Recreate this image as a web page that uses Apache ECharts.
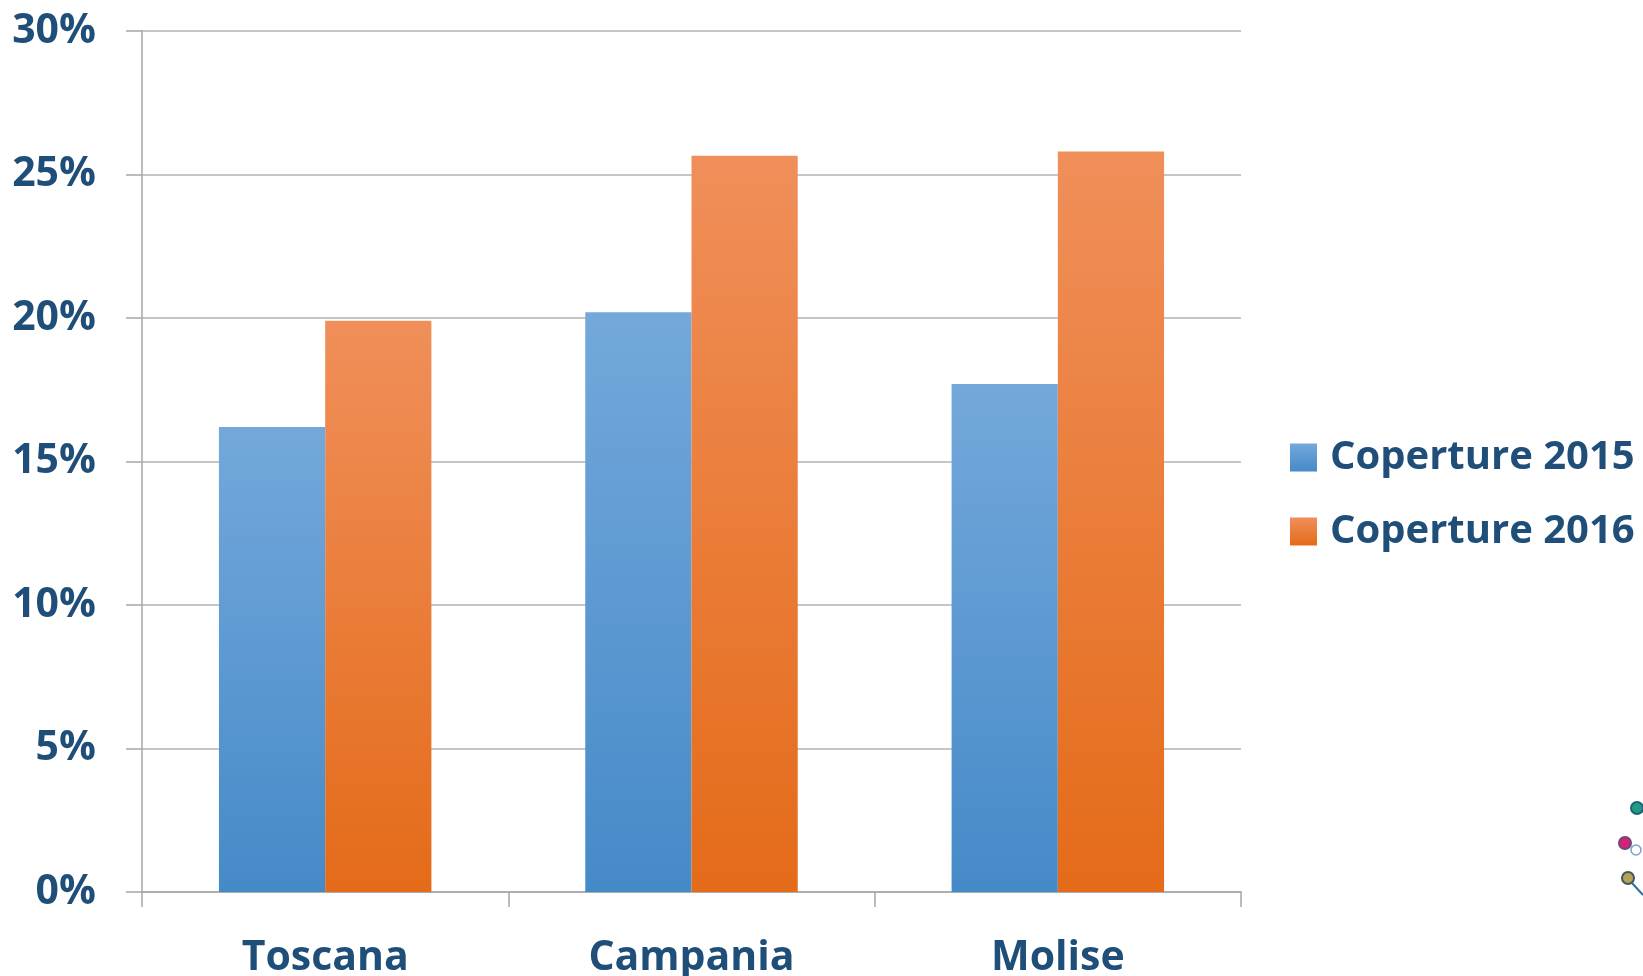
<!DOCTYPE html>
<html>
<head>
<meta charset="utf-8">
<script src="https://cdn.jsdelivr.net/npm/echarts@6/dist/echarts.min.js"></script>
<style>
  html, body { margin: 0; padding: 0; background: #fff; }
  #main { width: 1643px; height: 976px; }
</style>
</head>
<body>
<div id="main"></div>
<script>
// dati
var regioni = ['Toscana', 'Campania', 'Molise'];
var nomiSerie = ['Coperture 2015', 'Coperture 2016'];
var coperture2015 = [16.2, 20.2, 17.7];
var coperture2016 = [19.9, 25.65, 25.8];
var yTicks = [0, 5, 10, 15, 20, 25, 30];

var myChart = echarts.init(document.getElementById('main'));

var testo = '#1F4E79';
var font = '"Open Sans", sans-serif';

function grad(top, bottom) {
    return new echarts.graphic.LinearGradient(0, 0, 0, 1, [
        { offset: 0, color: top },
        { offset: 1, color: bottom }
    ]);
}

var option = {
    backgroundColor: '#fff',
    animation: false,
    grid: { left: 142, right: 402, top: 31, bottom: 84, outerBoundsMode: 'none' },
    legend: {
        orient: 'vertical',
        left: 1290,
        top: 437,
        padding: 0,
        itemWidth: 27,
        itemHeight: 28,
        itemGap: 33,
        icon: 'rect',
        textStyle: {
            color: testo, fontFamily: font, fontWeight: 'bold',
            fontSize: 40, lineHeight: 41, padding: [0, 0, 0, 8]
        },
        data: nomiSerie
    },
    xAxis: {
        type: 'category',
        data: regioni,
        axisLine: { show: true, lineStyle: { color: '#A6A6A6', width: 1.5 } },
        axisTick: { show: true, length: 15, lineStyle: { color: '#A6A6A6', width: 1.5 } },
        axisLabel: {
            color: testo, fontFamily: font, fontWeight: 'bold',
            fontSize: 41, margin: 46
        }
    },
    yAxis: {
        type: 'value',
        min: yTicks[0],
        max: yTicks[yTicks.length - 1],
        interval: yTicks[1] - yTicks[0],
        axisLine: { show: true, lineStyle: { color: '#A6A6A6', width: 1.5 } },
        axisTick: { show: true, length: 16, lineStyle: { color: '#A6A6A6', width: 1.5 } },
        splitLine: { show: true, lineStyle: { color: '#B3B3B3', width: 1.5 } },
        axisLabel: {
            color: testo, fontFamily: font, fontWeight: 'bold',
            fontSize: 41, margin: 46,
            formatter: '{value}%'
        }
    },
    series: [
        {
            name: nomiSerie[0],
            type: 'bar',
            data: coperture2015,
            barGap: '0%',
            barCategoryGap: '42%',
            itemStyle: { color: grad('#74A8DB', '#458AC8') }
        },
        {
            name: nomiSerie[1],
            type: 'bar',
            data: coperture2016,
            itemStyle: { color: grad('#F08F5A', '#E46B19') }
        }
    ],
    // frammento di logo nell'angolo in basso a destra
    graphic: [
        { type: 'line', shape: { x1: 1637, y1: 808, x2: 1643, y2: 812 }, style: { stroke: '#2A7FA8', lineWidth: 2 } },
        { type: 'circle', shape: { cx: 1637, cy: 808, r: 6 }, style: { fill: '#1E9C84', stroke: '#23607A', lineWidth: 2 } },
        { type: 'circle', shape: { cx: 1625, cy: 843, r: 6 }, style: { fill: '#D8207A', stroke: '#6A4A7A', lineWidth: 2 } },
        { type: 'circle', shape: { cx: 1636, cy: 850, r: 5 }, style: { fill: 'none', stroke: '#7BA2C8', lineWidth: 1.5 } },
        { type: 'circle', shape: { cx: 1628, cy: 878, r: 6 }, style: { fill: '#B8A25A', stroke: '#3F5A5A', lineWidth: 2 } },
        { type: 'line', shape: { x1: 1632, y1: 883, x2: 1643, y2: 895 }, style: { stroke: '#2A6FA0', lineWidth: 2 } }
    ]
};

myChart.setOption(option);
</script>
</body>
</html>
